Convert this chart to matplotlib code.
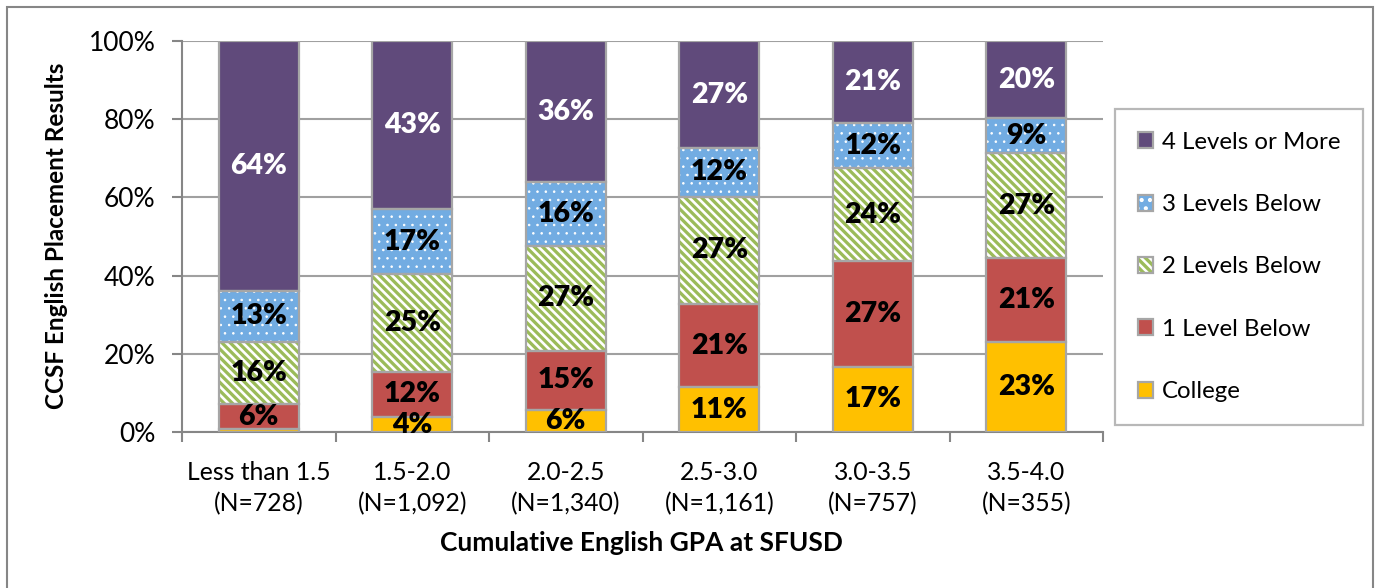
import matplotlib
matplotlib.use('Agg')
import matplotlib.pyplot as plt
from matplotlib.patches import Rectangle, Patch
from matplotlib.legend_handler import HandlerTuple
import numpy as np

# ---- data ----
categories = ["Less than 1.5\n(N=728)", "1.5-2.0\n(N=1,092)", "2.0-2.5\n(N=1,340)",
              "2.5-3.0\n(N=1,161)", "3.0-3.5\n(N=757)", "3.5-4.0\n(N=355)"]
college = [0.8, 3.8, 5.6, 11.4, 16.7, 23.0]
one_level = [6.3, 11.6, 15.2, 21.4, 27.0, 21.4]
two_levels = [16.0, 24.9, 26.8, 27.4, 23.7, 27.0]
three_levels = [13.0, 16.7, 16.3, 12.4, 11.7, 8.8]
four_levels = [63.9, 43.0, 36.1, 27.4, 20.9, 19.8]
series_names = ["College", "1 Level Below", "2 Levels Below", "3 Levels Below", "4 Levels or More"]
yticks = [0, 20, 40, 60, 80, 100]
ytick_labels = ["0%", "20%", "40%", "60%", "80%", "100%"]

plt.rcParams['font.family'] = ['Lato', 'DejaVu Sans']
plt.rcParams['hatch.linewidth'] = 1.8

series = [college, one_level, two_levels, three_levels, four_levels]
faces = ['#FFC000', '#C0504D', '#9BBB59', '#72ACE2', '#604A7B']
hatches = [None, None, '\\\\\\\\', '..', None]
hatch_lw = [None, None, 1.9, 0.6, None]
label_colors = ['black', 'black', 'black', 'black', 'white']
edge_gray = '#A6A6A6'

W, H = 1377, 588
fig = plt.figure(figsize=(W / 100, H / 100), dpi=100)
ax = fig.add_axes([182 / W, 1 - 432 / H, (1103 - 182) / W, (432 - 41) / H])


def set_hlw(patch, lw):
    if lw is not None and hasattr(patch, 'set_hatch_linewidth'):
        patch.set_hatch_linewidth(lw)


x = np.arange(len(categories))
bw = 0.52
bottom = np.zeros(len(categories))
handles = []
for vals, fc, ht, hlw, lc, name in zip(series, faces, hatches, hatch_lw, label_colors, series_names):
    vals = np.array(vals)
    ax.bar(x, vals, bw, bottom=bottom, color=fc, edgecolor='none', linewidth=0, zorder=3)
    if ht:
        bars = ax.bar(x, vals, bw, bottom=bottom, fill=False, hatch=ht, edgecolor='white',
                      linewidth=0, zorder=4)
        for p in bars:
            set_hlw(p, hlw)
    ax.bar(x, vals, bw, bottom=bottom, fill=False, edgecolor=edge_gray, linewidth=1.6, zorder=5)
    for xi, v, b in zip(x, vals, bottom):
        if v >= 2:
            ax.text(xi, b + v / 2, f"{round(v):d}%", ha='center', va='center',
                    fontsize=20.5, fontweight='heavy', color=lc, zorder=6)
    hp = [Patch(facecolor=fc, edgecolor='none', linewidth=0)]
    if ht:
        hpp = Patch(fill=False, hatch=ht, edgecolor='white', linewidth=0)
        set_hlw(hpp, hlw)
        hp.append(hpp)
    hp.append(Patch(fill=False, edgecolor=edge_gray, linewidth=1.6))
    handles.append(tuple(hp))
    bottom = bottom + vals

ax.set_xlim(-0.5, len(categories) - 0.5)
ax.set_ylim(0, 100)
ax.set_yticks(yticks)
ax.set_yticklabels(ytick_labels, fontsize=19)
ax.set_xticks(x)
ax.set_xticklabels(categories, fontsize=17.8, linespacing=1.4)
ax.set_xticks(np.arange(len(categories) + 1) - 0.5, minor=True)
ax.tick_params(axis='x', which='major', length=0, pad=21)
ax.tick_params(axis='x', which='minor', length=7, width=1.5, color='#868686')
ax.tick_params(axis='y', length=7, width=1.5, color='#868686', pad=12)
ax.yaxis.grid(True, color='#A0A0A0', linewidth=1.5, zorder=0)
ax.set_axisbelow(True)
for s in ['top', 'right']:
    ax.spines[s].set_visible(False)
for s in ['left', 'bottom']:
    ax.spines[s].set_color('#868686')
    ax.spines[s].set_linewidth(1.5)

fig.text(641 / W, 1 - 543 / H, "Cumulative English GPA at SFUSD", ha='center', va='center',
         fontsize=19, fontweight='bold')
fig.text(57 / W, 1 - 236 / H, "CCSF English Placement Results", ha='center', va='center',
         fontsize=17.5, fontweight='bold', rotation=90)

leg = fig.legend(handles[::-1], series_names[::-1], loc='upper left',
                 bbox_to_anchor=(1115 / W, 1 - 109 / H), borderaxespad=0,
                 fontsize=17.3, frameon=True, fancybox=False, labelspacing=1.72,
                 handlelength=0.65, handleheight=0.65, handletextpad=0.35,
                 borderpad=0.95, handler_map={tuple: HandlerTuple(ndivide=1)})
leg.get_frame().set_edgecolor(edge_gray)
leg.get_frame().set_linewidth(1.6)

# outer chart border
fig.patches.append(Rectangle((7 / W, -0.02), (1373 - 7) / W, 1 - 7 / H + 0.02,
                             transform=fig.transFigure, fill=False, edgecolor='#868686',
                             linewidth=1.5, zorder=0))

fig.savefig('out.png', dpi=100)
